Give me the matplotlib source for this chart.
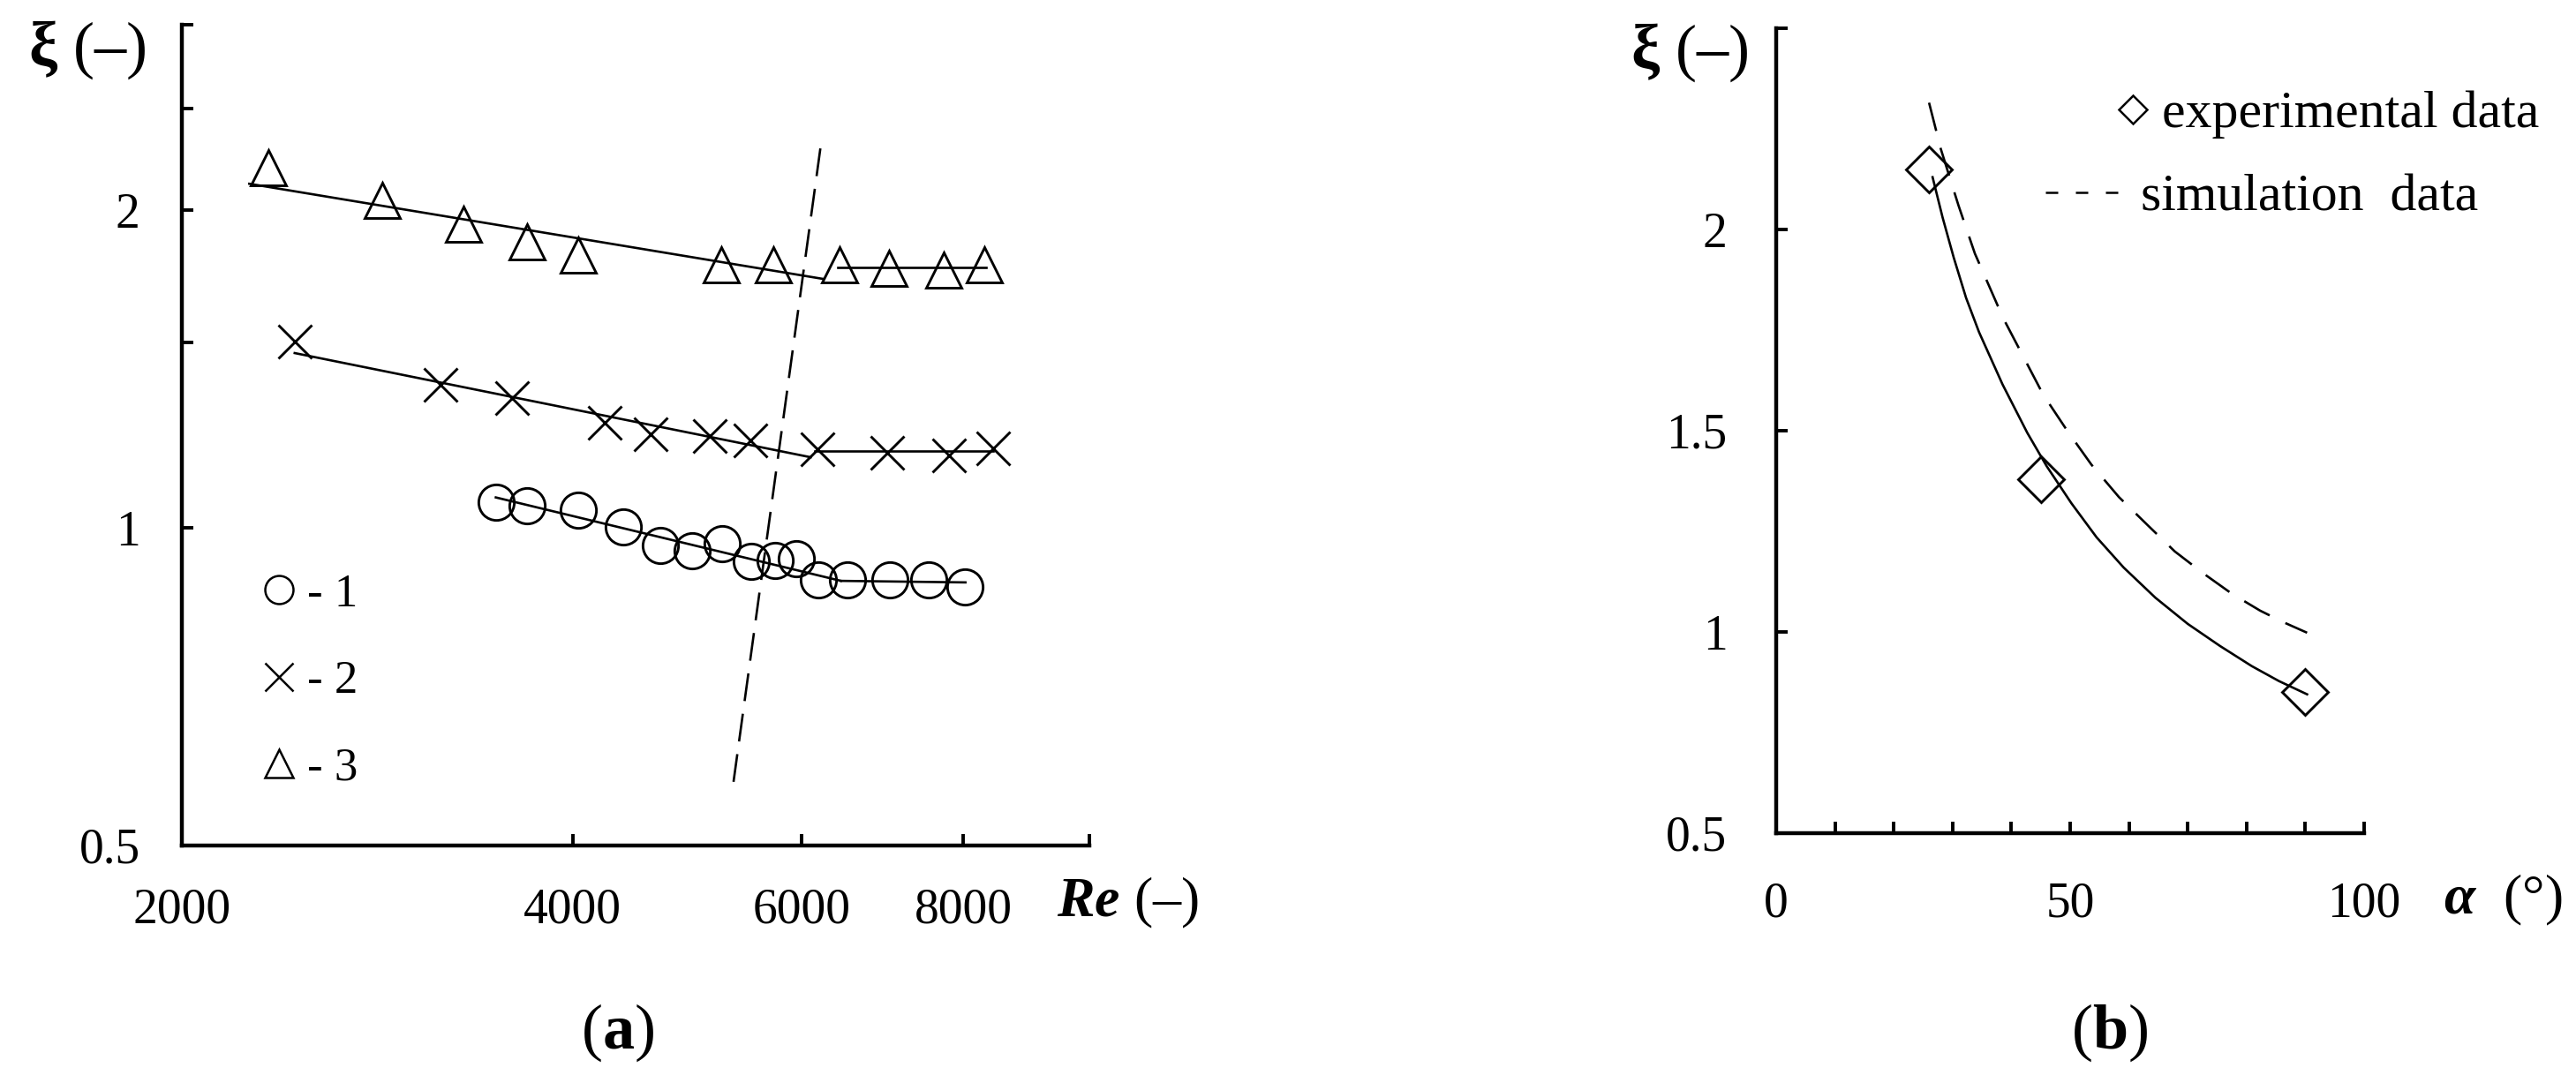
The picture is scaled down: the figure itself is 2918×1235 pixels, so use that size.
import matplotlib
matplotlib.use("Agg")
import matplotlib.pyplot as plt
from matplotlib.lines import Line2D
from matplotlib.ticker import NullLocator

plt.rcParams['font.family'] = ['Liberation Serif', 'DejaVu Serif']
plt.rcParams['mathtext.fontset'] = 'custom'
plt.rcParams['mathtext.rm'] = 'Liberation Serif'
plt.rcParams['mathtext.bf'] = 'Liberation Serif:bold'
plt.rcParams['mathtext.it'] = 'Liberation Serif:italic'
plt.rcParams['mathtext.bfit'] = 'Liberation Serif:italic:bold'

# (a) resistance coefficient vs Reynolds number, three cases
re_1 = [3492, 3689, 4041, 4378, 4670, 4940, 5216, 5489, 5728, 5950, 6185, 6511, 7015, 7523, 8020]
xi_1 = [1.058, 1.050, 1.040, 1.002, 0.962, 0.952, 0.966, 0.929, 0.932, 0.936, 0.893, 0.893, 0.893, 0.893, 0.880]
re_2 = [2445, 3163, 3592, 4234, 4594, 5098, 5483, 6179, 6991, 7800, 8428]
xi_2 = [1.501, 1.368, 1.328, 1.259, 1.228, 1.222, 1.210, 1.187, 1.178, 1.171, 1.189]
re_3 = [2330, 2853, 3296, 3689, 4041, 5205, 5711, 6420, 7004, 7724, 8305]
xi_3 = [2.197, 2.043, 1.942, 1.866, 1.813, 1.778, 1.778, 1.778, 1.764, 1.755, 1.778]

# fitted lines: sloped part, then flat part
fit1_re = [[3490, 6437], [6437, 8027]]
fit1_xi = [[1.069, 0.891], [0.891, 0.888]]
fit2_re = [[2443, 6100], [6150, 8430]]
fit2_xi = [[1.465, 1.167], [1.183, 1.183]]
fit3_re = [[2254, 6243], [6404, 8332]]
fit3_xi = [[2.12, 1.722], [1.767, 1.767]]

# transition boundary (dashed)
bound_re = [6206, 5306]
bound_xi = [2.29, 0.561]

# (b) resistance coefficient vs angle
alpha_exp = [26, 45, 90]
xi_exp = [2.15, 1.38, 0.85]
alpha_fit = [26.6, 28.3, 30.2, 32.3, 34.5, 38.5, 42.7, 46.0, 50.2, 54.5, 59.1, 64.5, 70.0, 75.5, 80.9, 85.5, 90.3]
xi_fit = [2.13, 2.03, 1.93, 1.83, 1.745, 1.615, 1.495, 1.412, 1.32, 1.235, 1.16, 1.085, 1.02, 0.965, 0.915, 0.878, 0.845]
alpha_sim = [26.0, 28.0, 31.0, 33.8, 38.6, 45.4, 49.5, 53.6, 58.3, 63.2, 67.8, 72.7, 77.5, 82.3, 86.3, 90.3]
xi_sim = [2.315, 2.20, 2.06, 1.94, 1.78, 1.59, 1.50, 1.416, 1.335, 1.265, 1.20, 1.145, 1.095, 1.053, 1.024, 0.998]

W, H = 2918, 1235
fig = plt.figure(figsize=(W / 100, H / 100), dpi=100)


def fx(x):
    return x / W


def fy(y):
    return 1 - y / H


ax1 = fig.add_axes([fx(206), fy(958), (1234 - 206) / W, (958 - 28) / H])
ax2 = fig.add_axes([fx(2012), fy(944), (2678 - 2012) / W, (944 - 32) / H])

for ax in (ax1, ax2):
    ax.spines['top'].set_visible(False)
    ax.spines['right'].set_visible(False)
    ax.spines['left'].set_linewidth(3.2)
    ax.spines['bottom'].set_linewidth(3.2)
    ax.tick_params(direction='in', length=9.5, width=2.8, labelsize=40, colors='k')
    ax.patch.set_alpha(0)

lw = 1.9
mk = dict(ls='none', mfc='none', mec='k', mew=2.1)

ax1.set_xscale('log')
ax1.set_yscale('log')
ax1.plot(re_1, xi_1, marker='o', ms=29, **mk)
ax1.plot(re_2, xi_2, marker='x', ms=28, **mk)
ax1.plot(re_3, xi_3, marker='^', ms=29, **mk)
for fr, fxi in ((fit1_re, fit1_xi), (fit2_re, fit2_xi), (fit3_re, fit3_xi)):
    for r, v in zip(fr, fxi):
        ax1.plot(r, v, color='k', lw=lw)
ax1.plot(bound_re, bound_xi, color='k', lw=lw, dashes=(12, 5.5))

ax1.set_xlim(2000, 10000)
ax1.set_ylim(0.5, 3)
ax1.set_xticks([2000, 4000, 6000, 8000, 10000], ['2000', '4000', '6000', '8000', ''])
ax1.set_yticks([0.5, 1, 1.5, 2, 2.5, 3], ['0.5', '1', '', '2', '', ''])
ax1.xaxis.set_minor_locator(NullLocator())
ax1.yaxis.set_minor_locator(NullLocator())
ax1.tick_params(axis='x', pad=34)
ax1.tick_params(axis='y', pad=34)

ax2.plot(alpha_fit, xi_fit, color='k', lw=lw)
ax2.plot(alpha_sim, xi_sim, color='k', lw=lw, dashes=(12.5, 7.5))
ax2.plot(alpha_exp, xi_exp, marker='D', ms=26, **mk)
ax2.set_xlim(0, 100)
ax2.set_ylim(0.5, 2.5)
ax2.set_xticks(range(0, 101, 10), ['0', '', '', '', '', '50', '', '', '', '', '100'])
ax2.set_yticks([0.5, 1, 1.5, 2, 2.5], ['0.5', '1', '1.5', '2', ''])
ax2.tick_params(axis='x', pad=39)
ax2.tick_params(axis='y', pad=40)

# legends
h1 = Line2D([], [], ls='none', marker='o', ms=23, mfc='none', mec='k', mew=1.8)
h2 = Line2D([], [], ls='none', marker='x', ms=23, mfc='none', mec='k', mew=1.8)
h3 = Line2D([], [], ls='none', marker='^', ms=23, mfc='none', mec='k', mew=1.8)
fig.legend([h1, h2, h3], ['- 1', '- 2', '- 3'], loc='center left',
           bbox_to_anchor=(fx(296), fy(772)), frameon=False, fontsize=38,
           handlelength=0.76, handletextpad=0.22, labelspacing=0.95,
           borderpad=0, borderaxespad=0)

hd = Line2D([], [], ls='none', marker='D', ms=16.5, mfc='none', mec='k', mew=1.8)
fig.legend([hd], ['experimental data'], loc='center left',
           bbox_to_anchor=(fx(2392), fy(130)), frameon=False, fontsize=43,
           handlelength=0.8, handletextpad=0.15, borderpad=0, borderaxespad=0)
hs = Line2D([], [], color='k', lw=1.8, dashes=(5.6, 8))
fig.legend([hs], ['simulation  data'], loc='center left',
           bbox_to_anchor=(fx(2317), fy(224)), frameon=False, fontsize=43,
           handlelength=1.47, handletextpad=0.34, borderpad=0, borderaxespad=0)

# axis titles
fig.text(fx(165), fy(57), r'$\mathbf{\xi}$ (–)', ha='right', va='center', fontsize=52)
fig.text(fx(1980), fy(60), r'$\mathbf{\xi}$ (–)', ha='right', va='center', fontsize=52)
fig.text(fx(1197), fy(1023), r'$\mathbfit{Re}$ (–)', ha='left', va='center', fontsize=46)
fig.text(fx(2768), fy(1020), r'$\mathbfit{\alpha}$  (°)', ha='left', va='center', fontsize=46)

fig.text(fx(700), fy(1170), r'($\mathbf{a}$)', ha='center', va='center', fontsize=52)
fig.text(fx(2390), fy(1170), r'($\mathbf{b}$)', ha='center', va='center', fontsize=52)

fig.savefig('out.png', dpi=100, facecolor='white')
